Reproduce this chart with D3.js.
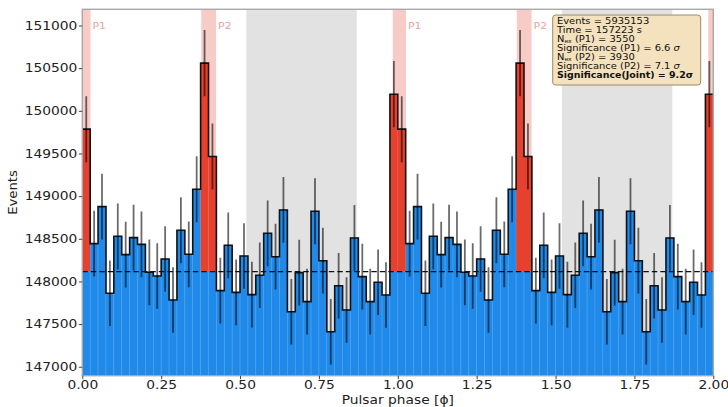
<!DOCTYPE html>
<html>
<head>
<meta charset="utf-8">
<script src="https://cdn.jsdelivr.net/npm/d3@7"></script>
<style>
  html, body { margin: 0; padding: 0; background: #fff; }
  svg { display: block; font-family: "DejaVu Sans", sans-serif; }
</style>
</head>
<body>
<svg id="chart" width="728" height="407"></svg>
<script>
// Folded event counts per phase bin (one rotation, 40 bins), drawn for two rotations
const cycleCounts = [
  149785, 148443, 148877, 147861, 148529, 148314, 148513, 148435, 148107, 148064,
  148263, 147782, 148600, 148318, 149081, 150559, 149465, 147892, 148424, 147872,
  148298, 147845, 148072, 148564, 148290, 148838, 147645, 148103, 147763, 148823,
  148243, 147411, 147950, 147665, 148510, 148056, 147763, 147990, 147841, 150195
];
const binsPerCycle = 40;
const cycles = 2;
const onPulseBins = [0, 15, 16, 39];          // bins inside the P1 / P2 windows
const backgroundLevel = 148115;                // mean off-pulse level
const p1Window = [-0.016, 0.026];
const p2Window = [0.377, 0.424];
const offPulseWindow = [0.52, 0.87];
const yLimits = [146895, 151190];
const xLimits = [0, 2];
const yTicks = [147000, 147500, 148000, 148500, 149000, 149500, 150000, 150500, 151000];
const xTicks = [0, 0.25, 0.5, 0.75, 1, 1.25, 1.5, 1.75, 2];
const statsLines = [
  [{t: "Events = 5935153"}],
  [{t: "Time = 157223 s"}],
  [{t: "N"}, {t: "ex", sub: true}, {t: " (P1) = 3550"}],
  [{t: "Significance (P1) = 6.6 "}, {t: "σ", it: true}],
  [{t: "N"}, {t: "ex", sub: true}, {t: " (P2) = 3930"}],
  [{t: "Significance (P2) = 7.1 "}, {t: "σ", it: true}],
  [{t: "Significance(Joint)  = 9.2σ", bold: true}]
];

const colors = {
  blue: "#1f8aea", red: "#e6402f", pink: "#f7cbc6", offGray: "#e2e2e2",
  spine: "#a8a8a8", text: "#222", label: "#e9a39c"
};

const plot = {left: 82.3, right: 713.3, top: 9.3, bottom: 375.7};
const svg = d3.select("#chart");
const x = d3.scaleLinear().domain(xLimits).range([plot.left, plot.right]);
const y = d3.scaleLinear().domain(yLimits).range([plot.bottom, plot.top]);

const binWidth = 1 / binsPerCycle;
const bins = [];
for (let c = 0; c < cycles; c++) {
  cycleCounts.forEach((v, i) => {
    bins.push({lo: c + i * binWidth, hi: c + (i + 1) * binWidth, v, on: onPulseBins.includes(i)});
  });
}

svg.append("defs").append("clipPath").attr("id", "plotClip")
  .append("rect").attr("x", plot.left).attr("y", plot.top)
  .attr("width", plot.right - plot.left).attr("height", plot.bottom - plot.top);

const g = svg.append("g").attr("clip-path", "url(#plotClip)");

// shaded phase windows
const shade = [];
for (let c = 0; c < cycles; c++) {
  shade.push({a: c + offPulseWindow[0], b: c + offPulseWindow[1], fill: colors.offGray});
}
for (let c = 0; c <= cycles; c++) {
  shade.push({a: c + p1Window[0], b: c + p1Window[1], fill: colors.pink});
  if (c < cycles) shade.push({a: c + p2Window[0], b: c + p2Window[1], fill: colors.pink});
}
g.selectAll("rect.shade").data(shade).join("rect").attr("class", "shade")
  .attr("x", d => x(d.a)).attr("width", d => x(d.b) - x(d.a))
  .attr("y", plot.top).attr("height", plot.bottom - plot.top)
  .attr("fill", d => d.fill);

// blue histogram bars (on-pulse bins stop at the background level)
g.selectAll("rect.bar").data(bins).join("rect").attr("class", "bar")
  .attr("x", d => x(d.lo)).attr("width", d => x(d.hi) - x(d.lo))
  .attr("y", d => y(d.on ? backgroundLevel : d.v))
  .attr("height", d => y(yLimits[0]) - y(d.on ? backgroundLevel : d.v))
  .attr("fill", colors.blue).attr("stroke", "#4fa2ee").attr("stroke-width", 0.6);

// excess above the background in the pulse windows
g.selectAll("rect.excess").data(bins.filter(d => d.on)).join("rect").attr("class", "excess")
  .attr("x", d => x(d.lo)).attr("width", d => x(d.hi) - x(d.lo))
  .attr("y", d => y(d.v)).attr("height", d => y(backgroundLevel) - y(d.v))
  .attr("fill", colors.red);

// background level
g.append("line")
  .attr("x1", x(xLimits[0])).attr("x2", x(xLimits[1]))
  .attr("y1", y(backgroundLevel)).attr("y2", y(backgroundLevel))
  .attr("stroke", "#111").attr("stroke-width", 1.4).attr("stroke-dasharray", "5.5,3");

// histogram outline
const stepPts = bins.map(d => [d.lo, d.v]).concat([[bins[bins.length - 1].hi, bins[bins.length - 1].v]]);
g.append("path")
  .attr("d", d3.line().x(d => x(d[0])).y(d => y(d[1])).curve(d3.curveStepAfter)(stepPts))
  .attr("fill", "none").attr("stroke", "#111").attr("stroke-width", 1.6);

// Poisson error bars
g.selectAll("line.err").data(bins).join("line").attr("class", "err")
  .attr("x1", d => x((d.lo + d.hi) / 2)).attr("x2", d => x((d.lo + d.hi) / 2))
  .attr("y1", d => y(d.v - Math.sqrt(d.v))).attr("y2", d => y(d.v + Math.sqrt(d.v)))
  .attr("stroke", "#000").attr("stroke-opacity", 0.58).attr("stroke-width", 1.8);

// window labels
const winLabels = [];
for (let c = 0; c < cycles; c++) {
  winLabels.push({t: "P1", at: c + p1Window[1]});
  winLabels.push({t: "P2", at: c + p2Window[1]});
}
svg.selectAll("text.win").data(winLabels).join("text").attr("class", "win")
  .attr("x", d => x(d.at) + 2)
  .attr("y", 29)
  .attr("transform", d => `translate(${x(d.at) + 2},0) scale(1.15,1) translate(${-(x(d.at) + 2)},0)`)
  .attr("font-size", 9.5).attr("fill", colors.label).text(d => d.t);

// frame
svg.append("rect")
  .attr("x", plot.left).attr("y", plot.top)
  .attr("width", plot.right - plot.left).attr("height", plot.bottom - plot.top)
  .attr("fill", "none").attr("stroke", colors.spine).attr("stroke-width", 1.4);

// axes
const sx = 1.17;
const yAxis = svg.append("g").attr("transform", `translate(${plot.left},0)`)
  .call(d3.axisLeft(y).tickValues(yTicks).tickFormat(d3.format("d")).tickSize(3.5).tickPadding(1.5));
const xAxis = svg.append("g").attr("transform", `translate(0,${plot.bottom})`)
  .call(d3.axisBottom(x).tickValues(xTicks).tickFormat(d3.format(".2f")).tickSize(3.5).tickPadding(1.5));
[xAxis, yAxis].forEach(a => {
  a.select(".domain").remove();
  a.selectAll(".tick line").attr("stroke", "#444").attr("stroke-width", 1);
  a.selectAll(".tick text").attr("font-size", 11.8).attr("fill", colors.text)
    .attr("font-family", "DejaVu Sans, sans-serif");
});
yAxis.selectAll(".tick text").attr("transform", `translate(-5,0) scale(${sx},1) translate(5,0)`);
xAxis.selectAll(".tick text").attr("transform", `scale(${sx},1)`);

svg.append("text")
  .attr("transform", `translate(${(plot.left + plot.right) / 2},404) scale(1.15,1)`)
  .attr("text-anchor", "middle").attr("font-size", 12).attr("fill", colors.text)
  .text("Pulsar phase [ϕ]");
svg.append("text")
  .attr("transform", `translate(17,${(plot.top + plot.bottom) / 2}) rotate(-90) scale(1.15,1)`)
  .attr("text-anchor", "middle").attr("font-size", 11.5).attr("fill", colors.text)
  .text("Events");

// statistics box
const box = svg.append("g");
const boxX = 552.7, boxW = 148;
box.append("rect").attr("x", boxX).attr("y", 15).attr("width", boxW).attr("height", 70).attr("rx", 3)
  .attr("fill", "#f4e1bd").attr("stroke", "#9c8a68").attr("stroke-width", 1);
const tx = 557;
const statTexts = statsLines.map((parts, i) => {
  const t = box.append("text")
    .attr("x", tx).attr("y", 23.6 + i * 9.05)
    .attr("font-size", 8.8).attr("fill", "#111");
  let shifted = false;
  parts.forEach(p => {
    const s = t.append("tspan").text(p.t);
    if (p.bold) s.attr("font-weight", "bold");
    if (p.it) s.attr("font-style", "italic");
    if (p.sub) { s.attr("font-size", 5.5).attr("dy", 1.2); shifted = true; }
    else if (shifted) { s.attr("dy", -1.2); shifted = false; }
  });
  return {t, bold: parts.some(p => p.bold)};
});
// widen the text so the bold line ends just inside the box; regular lines run a little wider
const longest = statTexts[statTexts.length - 1].t.node().getComputedTextLength();
const stretch = (boxX + boxW - 7.5 - tx) / longest;
statTexts.forEach(({t, bold}) => {
  const s = bold ? stretch : stretch * 1.05;
  t.attr("transform", `translate(${tx},0) scale(${s},1) translate(${-tx},0)`);
});
</script>
</body>
</html>
